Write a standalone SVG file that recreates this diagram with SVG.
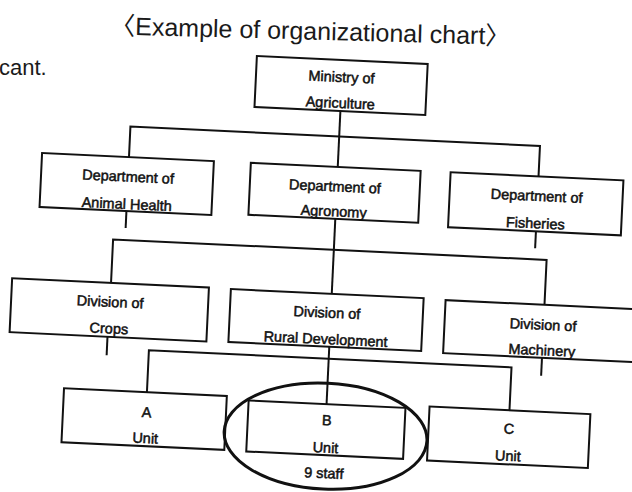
<svg xmlns="http://www.w3.org/2000/svg" width="632" height="492" viewBox="0 0 632 492">
<style>
.box{fill:none;stroke:#111;stroke-width:2}
.con{fill:none;stroke:#111;stroke-width:2}
.t{font-family:"Liberation Sans",Arial,sans-serif;font-size:14.5px;fill:#111;stroke:#111;stroke-width:0.5;text-anchor:middle}
.big{font-family:"Liberation Sans",Arial,"Noto Sans CJK JP",sans-serif;fill:#1a1a1a}
</style>
<rect width="632" height="492" fill="#fff"/>
<text class="big" font-size="25" transform="rotate(1.5 135 35)"><tspan x="110" y="35">〈</tspan><tspan x="135" y="35">Example of organizational chart</tspan><tspan>〉</tspan></text>
<text class="big" font-size="22" x="-1" y="75">cant.</text>
<g transform="rotate(2.7 316 246)">
<g id="connectors">
<path class="con" d="M334 110V166"/>
<path class="con" d="M125 166V135.5H535V166"/>
<path class="con" d="M125 220V237"/>
<path class="con" d="M535 221V238"/>
<path class="con" d="M334 218V293"/>
<path class="con" d="M113 292.5V249H547V294"/>
<path class="con" d="M112 346.5V365"/>
<path class="con" d="M547 347V365"/>
<path class="con" d="M334 346V403.5"/>
<path class="con" d="M154 400V358H517V401"/>
</g>
<g id="ministry">
<rect class="box" x="248" y="59" width="171" height="51"/>
<text class="t" x="333.5" y="81">Ministry of</text>
<text class="t" x="333.5" y="107">Agriculture</text>
</g>
<g id="dept-animal-health">
<rect class="box" x="38" y="166" width="172" height="54"/>
<text class="t" x="125" y="190.5">Department of</text>
<text class="t" x="125" y="218">Animal Health</text>
</g>
<g id="dept-agronomy">
<rect class="box" x="247" y="166" width="170" height="52"/>
<text class="t" x="332" y="190.5">Department of</text>
<text class="t" x="332" y="215.5">Agronomy</text>
</g>
<g id="dept-fisheries">
<rect class="box" x="447" y="166" width="173" height="55"/>
<text class="t" x="534" y="190.5">Department of</text>
<text class="t" x="534" y="218">Fisheries</text>
</g>
<g id="div-crops">
<rect class="box" x="14" y="292.5" width="197" height="54"/>
<text class="t" x="113" y="316.5">Division of</text>
<text class="t" x="113" y="343">Crops</text>
</g>
<g id="div-rural">
<rect class="box" x="233" y="293" width="193" height="53"/>
<text class="t" x="330" y="317">Division of</text>
<text class="t" x="330" y="343.5">Rural Development</text>
</g>
<g id="div-machinery">
<rect class="box" x="448" y="294" width="200" height="53"/>
<text class="t" x="546.5" y="319">Division of</text>
<text class="t" x="546.5" y="344.5">Machinery</text>
</g>
<g id="unit-a">
<rect class="box" x="71" y="400" width="163" height="54"/>
<text class="t" x="154.5" y="425">A</text>
<text class="t" x="154.5" y="451">Unit</text>
</g>
<g id="unit-b">
<rect class="box" x="256" y="403.5" width="157" height="51"/>
<text class="t" x="335" y="424.5">B</text>
<text class="t" x="335" y="452">Unit</text>
<text class="t" x="334.5" y="477.5">9 staff</text>
<ellipse cx="334.5" cy="435.5" rx="101.5" ry="53" fill="none" stroke="#111" stroke-width="3"/>
</g>
<g id="unit-c">
<rect class="box" x="437" y="401" width="161" height="54"/>
<text class="t" x="517.5" y="424.5">C</text>
<text class="t" x="517.5" y="451.5">Unit</text>
</g>
</g>
</svg>
